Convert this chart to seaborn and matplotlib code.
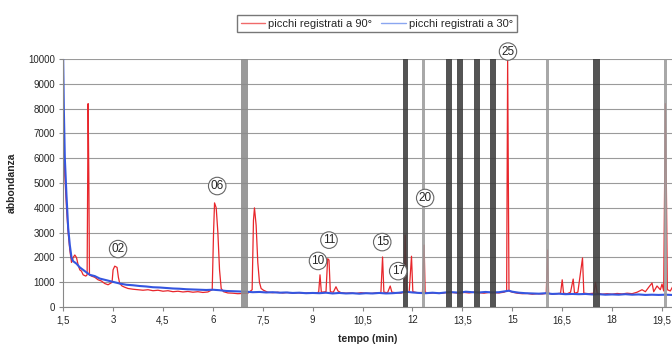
import pandas as pd
import matplotlib
matplotlib.use("Agg")
import matplotlib.pyplot as plt
from matplotlib.lines import Line2D
import seaborn as sns

# --- data ---
red_time = [1.50, 1.52, 1.55, 1.60, 1.65, 1.70, 1.75, 1.80, 1.85, 1.90, 1.95, 2.00, 2.05, 2.10, 2.18,
            2.22, 2.25, 2.27, 2.29, 2.35, 2.45, 2.55, 2.65, 2.75, 2.85, 2.97, 3.00, 3.05, 3.12, 3.16,
            3.20, 3.27, 3.35, 3.45, 3.60, 3.75, 3.90, 4.05, 4.20, 4.35, 4.50, 4.65, 4.80, 4.95, 5.10,
            5.25, 5.40, 5.55, 5.70, 5.85, 5.98, 6.02, 6.05, 6.10, 6.15, 6.20, 6.25, 6.32, 6.45, 6.60,
            6.75, 6.90, 7.05, 7.18, 7.22, 7.25, 7.30, 7.35, 7.40, 7.45, 7.52, 7.65, 7.80, 7.95, 8.10,
            8.25, 8.40, 8.55, 8.70, 8.85, 9.00, 9.12, 9.18, 9.22, 9.26, 9.40, 9.45, 9.49, 9.53, 9.62,
            9.70, 9.76, 9.85, 10.00, 10.15, 10.30, 10.45, 10.60, 10.75, 10.90, 11.05, 11.10, 11.14,
            11.25, 11.33, 11.38, 11.50, 11.65, 11.75, 11.78, 11.82, 11.90, 11.97, 12.01, 12.15, 12.30,
            12.35, 12.38, 12.50, 12.65, 12.80, 12.95, 13.10, 13.25, 13.40, 13.55, 13.70, 13.85, 14.00,
            14.15, 14.30, 14.45, 14.60, 14.75, 14.83, 14.86, 14.88, 14.90, 15.00, 15.15, 15.30, 15.45,
            15.60, 15.75, 15.90, 16.02, 16.06, 16.09, 16.20, 16.35, 16.45, 16.50, 16.54, 16.65, 16.75,
            16.83, 16.87, 16.97, 17.11, 17.15, 17.30, 17.45, 17.50, 17.55, 17.70, 17.85, 18.00, 18.15,
            18.30, 18.45, 18.60, 18.75, 18.90, 19.00, 19.10, 19.20, 19.25, 19.35, 19.45, 19.50, 19.55,
            19.60, 19.63, 19.66, 19.75, 19.85]
red_abund = [8200, 7000, 5300, 4000, 3000, 2300, 1800, 2000, 2100, 2000, 1700, 1500, 1450, 1300, 1250,
             1300, 8200, 5400, 1300, 1250, 1200, 1100, 1050, 950, 900, 1000, 1500, 1650, 1600, 1200,
             950, 850, 800, 750, 720, 700, 680, 700, 660, 680, 640, 660, 620, 640, 610,
             630, 600, 620, 590, 610, 700, 3000, 4200, 4000, 3000, 1500, 750, 620, 570, 560,
             540, 550, 560, 700, 3500, 4000, 3300, 1800, 1000, 750, 680, 600, 580, 600, 570,
             590, 560, 580, 560, 570, 560, 580, 600, 1300, 600, 620, 1950, 1900, 620, 600,
             820, 650, 580, 560, 570, 550, 580, 560, 550, 570, 580, 2020, 600,
             580, 850, 600, 580, 560, 600, 2900, 650, 600, 2050, 620, 580, 590,
             2500, 600, 560, 570, 550, 570, 600, 580, 560, 590, 570, 600, 580,
             560, 590, 580, 570, 600, 650, 10000, 5000, 650, 600, 560, 540, 550,
             520, 540, 530, 550, 2300, 560, 520, 540, 560, 1100, 560, 540, 600,
             1130, 560, 600, 1980, 560, 540, 560, 1000, 560, 520, 540, 520, 550,
             530, 560, 540, 600, 700, 620, 800, 970, 620, 850, 700, 930, 650,
             8200, 5000, 700, 650, 900]

blue_time = [1.50, 1.52, 1.55, 1.60, 1.65, 1.70, 1.75, 1.80, 1.90, 2.00, 2.10, 2.20, 2.30, 2.45, 2.60,
             2.75, 2.90, 3.05, 3.20, 3.40, 3.60, 3.80, 4.00, 4.20, 4.40, 4.60, 4.80, 5.00, 5.20, 5.40,
             5.60, 5.80, 6.00, 6.20, 6.40, 6.60, 6.80, 7.00, 7.20, 7.40, 7.60, 7.80, 8.00, 8.20, 8.40,
             8.60, 8.80, 9.00, 9.20, 9.40, 9.60, 9.80, 10.00, 10.20, 10.40, 10.60, 10.80, 11.00, 11.20,
             11.40, 11.60, 11.80, 12.00, 12.20, 12.40, 12.60, 12.80, 13.00, 13.20, 13.40, 13.60, 13.80,
             14.00, 14.20, 14.40, 14.60, 14.80, 14.90, 15.00, 15.20, 15.40, 15.60, 15.80, 16.00, 16.20,
             16.40, 16.60, 16.80, 17.00, 17.20, 17.40, 17.60, 17.80, 18.00, 18.20, 18.40, 18.60, 18.80,
             19.00, 19.20, 19.40, 19.60, 19.80]
blue_abund = [10000, 8000, 6000, 4500, 3200, 2500, 2000, 1850, 1750, 1600, 1500, 1400, 1300, 1250, 1150,
              1100, 1050, 1000, 950, 900, 880, 850, 830, 800, 790, 770, 750, 740, 720, 710,
              700, 690, 700, 680, 650, 640, 630, 620, 600, 610, 590, 600, 580, 590, 570,
              580, 560, 570, 560, 580, 550, 570, 550, 560, 540, 560, 550, 570, 550,
              560, 580, 620, 590, 570, 560, 580, 560, 590, 600, 580, 620, 600,
              590, 610, 590, 600, 640, 660, 620, 580, 560, 550, 540, 560, 530,
              540, 520, 530, 520, 530, 510, 520, 500, 510, 500, 520, 500, 510,
              490, 500, 490, 500, 490]

# marked retention windows (min)
band_start = [6.86, 11.72, 12.29, 13.02, 13.35, 13.86, 14.34, 16.02, 17.43, 19.57]
band_end = [7.06, 11.86, 12.38, 13.20, 13.53, 14.04, 14.52, 16.11, 17.64, 19.66]
band_shade = ["mid", "dark", "light", "dark", "dark", "dark", "dark", "light", "dark", "light"]

peak_labels = ["02", "06", "10", "11", "15", "17", "20", "25"]
label_time = [3.15, 6.13, 9.16, 9.49, 11.09, 11.57, 12.38, 14.87]
label_abund = [2340, 4880, 1860, 2700, 2620, 1450, 4400, 10300]

red_df = pd.DataFrame({"tempo": red_time, "abbondanza": red_abund})
blue_df = pd.DataFrame({"tempo": blue_time, "abbondanza": blue_abund})

sns.set_style("white")
plt.rcParams["font.family"] = ["Liberation Sans Narrow", "Liberation Sans", "DejaVu Sans"]

fig = plt.figure(figsize=(6.72, 3.47), dpi=100)
ax = fig.add_axes([0.094, 0.115, 0.906, 0.715])

red_c = "#e8262b"
blue_c = "#3556e0"
sns.lineplot(data=red_df, x="tempo", y="abbondanza", color=red_c, linewidth=0.9,
             estimator=None, sort=False, ax=ax, zorder=2)
sns.lineplot(data=blue_df, x="tempo", y="abbondanza", color=blue_c, linewidth=1.5,
             estimator=None, sort=False, ax=ax, zorder=2.5)

shade_col = {"dark": "#3c3c3c", "mid": "#8c8c8c", "light": "#9c9c9c"}
for s, e, sh in zip(band_start, band_end, band_shade):
    ax.axvspan(s, e, color=shade_col[sh], alpha=0.88, lw=0, zorder=3)

for lab, t, v in zip(peak_labels, label_time, label_abund):
    ax.text(t, v, lab, ha="center", va="center", fontsize=8.5, zorder=5, clip_on=False,
            bbox=dict(boxstyle="circle,pad=0.18", fc="white", ec="#666666", lw=0.8))

ax.set_xlim(1.5, 19.8)
ax.set_ylim(0, 10000)
xt = [1.5, 3, 4.5, 6, 7.5, 9, 10.5, 12, 13.5, 15, 16.5, 18, 19.5]
ax.set_xticks(xt)
ax.set_xticklabels([("%g" % v).replace(".", ",") for v in xt], fontsize=7)
ax.set_yticks(range(0, 10001, 1000))
ax.set_yticklabels([str(v) for v in range(0, 10001, 1000)], fontsize=7)
ax.yaxis.grid(True, color="#9a9a9a", lw=0.8)
ax.xaxis.grid(False)
ax.tick_params(axis="both", length=3, width=0.8, color="#888888", direction="out", pad=3,
               bottom=True, left=True)
for side in ["top", "right"]:
    ax.spines[side].set_visible(False)
for side in ["left", "bottom"]:
    ax.spines[side].set_color("#888888")
    ax.spines[side].set_linewidth(0.8)

ax.set_xlabel("tempo (min)", fontsize=7.5, fontweight="bold", labelpad=6)
ax.set_ylabel("abbondanza", fontsize=7.5, fontweight="bold", labelpad=8)

handles = [Line2D([], [], color="#f06a6a", lw=1),
           Line2D([], [], color="#8aa6f0", lw=1)]
fig.legend(handles, ["picchi registrati a 90°", "picchi registrati a 30°"], ncol=2,
           loc="center", bbox_to_anchor=(0.561, 0.932), fontsize=8, frameon=True,
           fancybox=False, edgecolor="#555555", handlelength=2.2, handletextpad=0.3,
           columnspacing=0.8, borderpad=0.35)

fig.savefig("out.png", dpi=100)
